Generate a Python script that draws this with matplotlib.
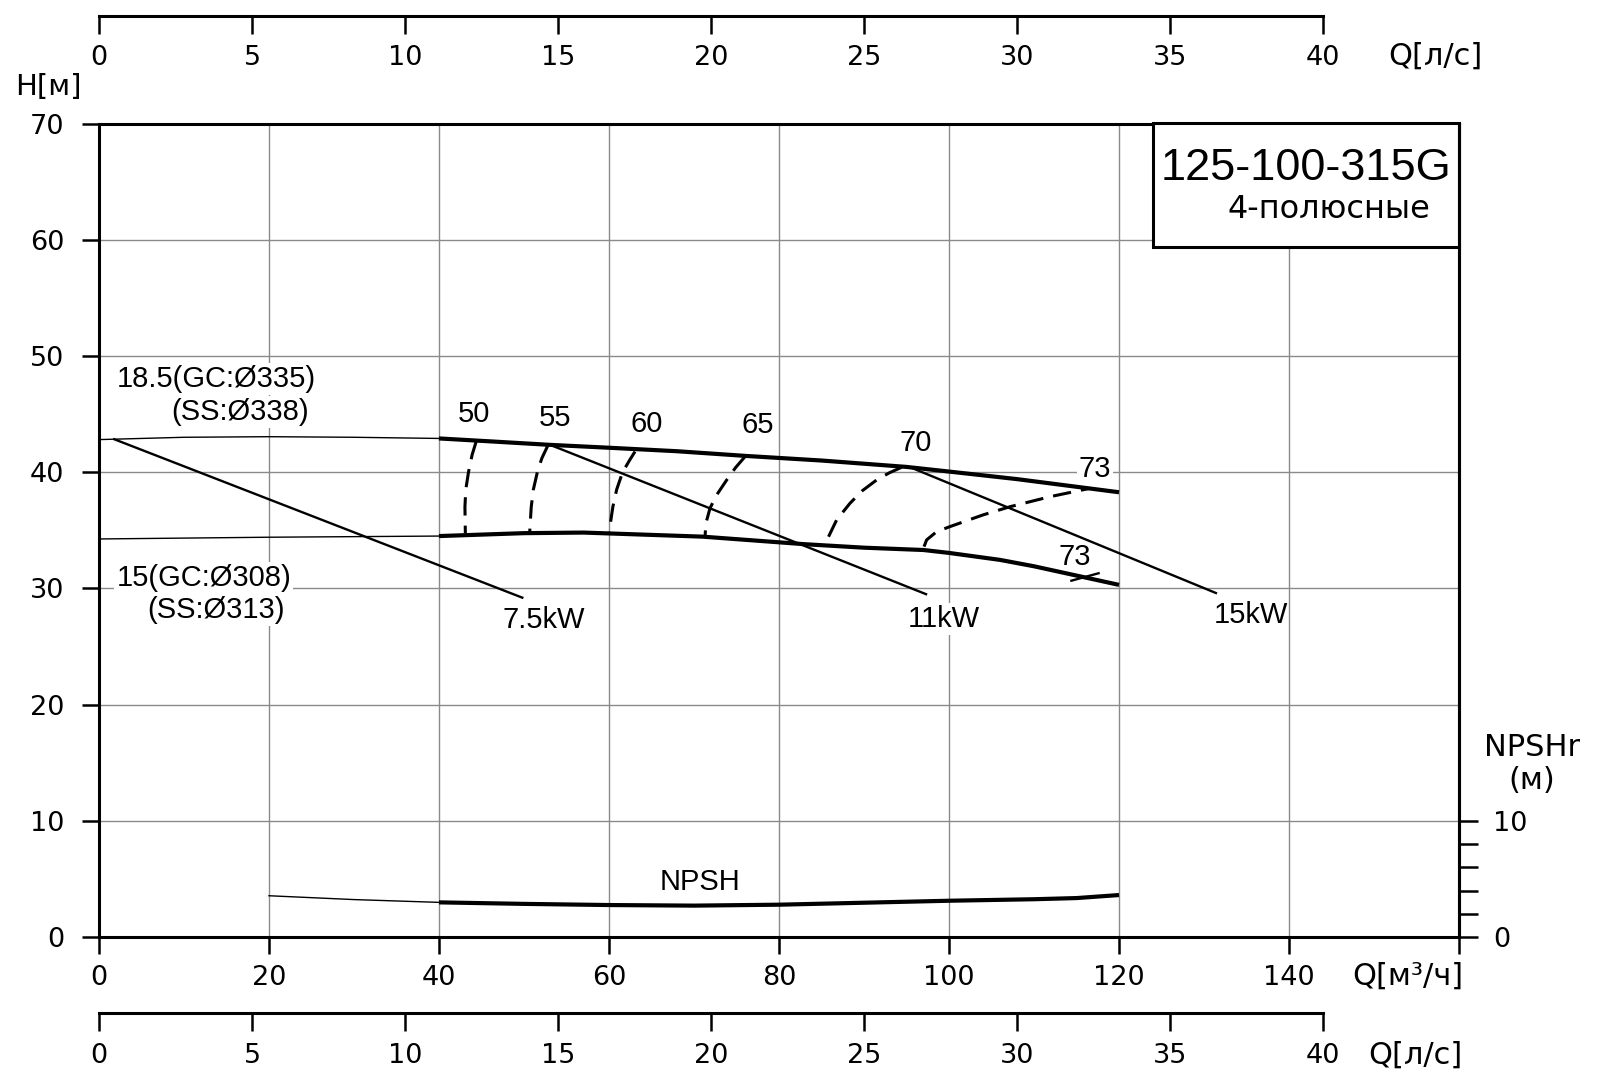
import matplotlib
matplotlib.use("Agg")
import matplotlib.pyplot as plt
from matplotlib.patches import Rectangle

plt.rcParams['font.family'] = ['DejaVu Sans']
ARIAL = ['Liberation Sans', 'DejaVu Sans']
GEO = ['DejaVu Sans']

# ---------------- data ----------------
q_ticks = [0, 20, 40, 60, 80, 100, 120, 140, 160]
q_ticklabels = ['0', '20', '40', '60', '80', '100', '120', '140', '']
h_ticks = [0, 10, 20, 30, 40, 50, 60, 70]
ls_ticks = [0, 5, 10, 15, 20, 25, 30, 35, 40]
npsh_major = [0, 10]
npsh_minor = [2, 4, 6, 8]

# impeller 335 (18.5)
up_q_ext = [0, 10, 20, 30, 40]
up_h_ext = [42.8, 43.0, 43.05, 43.0, 42.9]
up_q = [40, 46, 53, 60, 68, 76, 85, 95, 100, 108, 116.5, 120]
up_h = [42.9, 42.65, 42.35, 42.1, 41.8, 41.4, 41.0, 40.45, 40.05, 39.4, 38.6, 38.27]

# impeller 308 (15)
lo_q_ext = [0, 20, 40]
lo_h_ext = [34.25, 34.4, 34.5]
lo_q = [40, 50, 57, 65, 71, 83, 90, 97, 100, 106, 110, 115, 120]
lo_h = [34.5, 34.75, 34.8, 34.6, 34.45, 33.8, 33.5, 33.3, 33.05, 32.45, 31.9, 31.1, 30.3]

# power lines
p75_q = [1.8, 49.8]
p75_h = [42.83, 29.2]
p11_q = [53.1, 97.3]
p11_h = [42.34, 29.5]
p15_q = [95.5, 131.4]
p15_h = [40.4, 29.6]

# efficiency curves
e50_q = [44.37, 43.9, 43.47, 43.15, 43.05, 43.1]
e50_h = [42.63, 41.5, 40.0, 38.5, 37.0, 34.75]
e55_q = [52.78, 52.1, 51.57, 51.1, 50.85, 50.67]
e55_h = [42.25, 41.2, 40.0, 38.5, 37.0, 34.83]
e60_q = [63.06, 62.4, 61.6, 60.9, 60.45, 60.0]
e60_h = [41.77, 41.0, 40.0, 38.5, 37.0, 34.8]
e65_q = [76.0, 74.9, 73.85, 72.67, 71.88, 71.4, 71.3]
e65_h = [41.33, 40.4, 39.33, 38.04, 36.89, 35.6, 34.45]
e70_q = [94.43, 93.0, 91.49, 89.8, 88.35, 86.78, 85.8]
e70_h = [40.42, 39.95, 39.33, 38.4, 37.32, 35.89, 34.4]
e73_q = [97.06, 97.37, 98.55, 100.1, 104.0, 107.2, 111.9, 116.6]
e73_h = [33.59, 34.17, 34.88, 35.31, 36.32, 37.03, 37.89, 38.61]
e73b_q = [114.4, 117.6]
e73b_h = [30.66, 31.3]

# NPSH
npsh_q_ext = [20, 30, 40]
npsh_h_ext = [3.55, 3.22, 2.98]
npsh_q = [40, 50, 60, 70, 80, 90, 100, 110, 115, 120]
npsh_h = [2.98, 2.85, 2.75, 2.7, 2.78, 2.95, 3.12, 3.25, 3.35, 3.61]

LS_PER_M3H = 1 / 3.6

# ---------------- figure ----------------
W, H = 1600, 1090
fig = plt.figure(figsize=(16, 10.9), dpi=100)
x0, x1 = 99, 1459
y0, y1 = 123.5, 937
ax = fig.add_axes([x0 / W, 1 - y1 / H, (x1 - x0) / W, (y1 - y0) / H])
ax.set_xlim(0, 160)
ax.set_ylim(0, 70)

for s in ax.spines.values():
    s.set_linewidth(2.2)
ax.set_xticks(q_ticks)
ax.set_xticklabels(q_ticklabels)
ax.set_yticks(h_ticks)
ax.tick_params(axis='x', direction='out', length=12.5, width=1.8, pad=8, labelsize=19.5)
ax.tick_params(axis='y', direction='out', length=12.5, width=1.8, pad=12.5, labelsize=19.5)
ax.grid(True, color='#8a8a8a', linewidth=1.0, zorder=0)
ax.set_axisbelow(True)

thick = dict(color='black', lw=3.0, solid_capstyle='butt', zorder=3)
thin = dict(color='black', lw=1.0, zorder=3)
pw = dict(color='black', lw=1.7, zorder=3)
dsh = dict(color='black', lw=2.2, linestyle=(0, (6.0, 3.3)), zorder=3)

ax.plot(up_q_ext, up_h_ext, **thin)
ax.plot(up_q, up_h, **thick)
ax.plot(lo_q_ext, lo_h_ext, **thin)
ax.plot(lo_q, lo_h, **thick)
ax.plot(p75_q, p75_h, **pw)
ax.plot(p11_q, p11_h, **pw)
ax.plot(p15_q, p15_h, **pw)
for q, h in [(e50_q, e50_h), (e55_q, e55_h), (e60_q, e60_h), (e65_q, e65_h),
             (e70_q, e70_h), (e73_q, e73_h)]:
    ax.plot(q, h, **dsh)
ax.plot(e73b_q, e73b_h, color='black', lw=1.7, zorder=3)
ax.plot(npsh_q_ext, npsh_h_ext, **thin)
ax.plot(npsh_q, npsh_h, **thick)

bb = dict(facecolor='white', edgecolor='none', pad=1.5)
def lab(x, y, s, ha='center', size=21, bg=True):
    ax.text(x, y, s, ha=ha, va='baseline', fontsize=size, family=ARIAL,
            zorder=2, bbox=bb if bg else None)

lab(2.05, 47.36, '18.5(GC:Ø335)', ha='left')
lab(8.48, 44.49, '(SS:Ø338)', ha='left')
lab(2.05, 30.2, '15(GC:Ø308)', ha='left')
lab(5.65, 27.42, '(SS:Ø313)', ha='left')
lab(47.5, 26.56, '7.5kW', ha='left')
lab(95.2, 26.7, '11kW', ha='left')
lab(131.1, 27.05, '15kW', ha='left', bg=False)
lab(44.1, 44.35, '50')
lab(53.7, 43.98, '55')
lab(64.4, 43.49, '60')
lab(77.45, 43.35, '65')
lab(96.1, 41.82, '70')
lab(117.2, 39.6, '73')
lab(114.8, 32.0, '73', bg=False)
lab(70.7, 4.04, 'NPSH')

# title box
ax.add_patch(Rectangle((124.05, 59.4), 160 - 124.05, 70 - 59.4, facecolor='white',
                       edgecolor='black', lw=2.2, zorder=4, clip_on=False))
ax.text(141.98, 65.15, '125-100-315G', ha='center', va='baseline', fontsize=32.5,
        family=ARIAL, zorder=5)
ax.text(144.7, 61.85, '4-полюсные', ha='center', va='baseline', fontsize=23,
        family=GEO, zorder=5)

# axis titles
fig.text(48.3 / W, 1 - 95 / H, 'H[м]', ha='center', va='baseline', fontsize=21, family=GEO)
fig.text(1463 / W, 1 - 985 / H, 'Q[м³/ч]', ha='right', va='baseline', fontsize=22, family=GEO)
fig.text(1482 / W, 1 - 65 / H, 'Q[л/с]', ha='right', va='baseline', fontsize=22, family=GEO)
fig.text(1462 / W, 1 - 1064 / H, 'Q[л/с]', ha='right', va='baseline', fontsize=22, family=GEO)
fig.text(1531.7 / W, 1 - 756 / H, 'NPSHr', ha='center', va='baseline', fontsize=22, family=GEO)
fig.text(1531.7 / W, 1 - 789 / H, '(м)', ha='center', va='baseline', fontsize=22, family=GEO)

# NPSHr axis
ax2 = ax.twinx()
ax2.set_ylim(ax.get_ylim())
for k in ['top', 'bottom', 'left']:
    ax2.spines[k].set_visible(False)
ax2.spines['right'].set_linewidth(2.2)
ax2.set_yticks(npsh_major)
ax2.set_yticks(npsh_minor, minor=True)
ax2.tick_params(axis='y', which='both', direction='out', length=13.4, width=1.8,
                pad=11, labelsize=19.5)

# l/s axes
def ls_axis(ypix):
    a = fig.add_axes([x0 / W, 1 - ypix / H, (x1 - x0) / W, 0.001])
    a.patch.set_visible(False)
    for k in ['top', 'left', 'right']:
        a.spines[k].set_visible(False)
    a.spines['bottom'].set_linewidth(2.2)
    a.set_xlim(ax.get_xlim()[0] * LS_PER_M3H, ax.get_xlim()[1] * LS_PER_M3H)
    a.spines['bottom'].set_bounds(ls_ticks[0], ls_ticks[-1])
    a.set_xticks(ls_ticks)
    a.set_yticks([])
    a.tick_params(axis='x', direction='out', length=12.7, width=1.8, pad=8.4, labelsize=19.5)
    return a

ls_axis(15.7)
ls_axis(1013.3)

fig.savefig('out.png', dpi=100, facecolor='white')
